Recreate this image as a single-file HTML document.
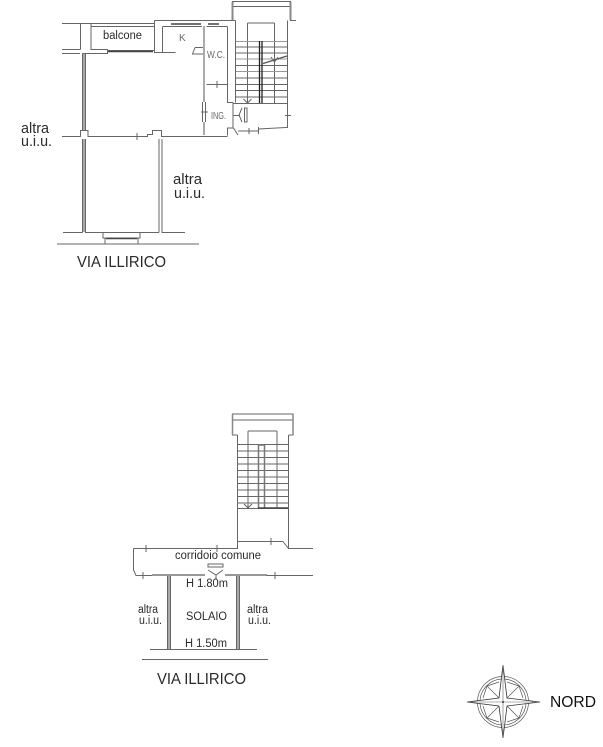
<!DOCTYPE html>
<html>
<head>
<meta charset="utf-8">
<style>
html,body{margin:0;padding:0;background:#fff;width:603px;height:747px;overflow:hidden}
svg{display:block}
text{font-family:"Liberation Sans",sans-serif;fill:#2a2a2a}
.l{fill:none;stroke:#666;stroke-width:1}
.g{fill:none;stroke:#aaa;stroke-width:2}
.d{fill:none;stroke:#444;stroke-width:1.5}
</style>
</head>
<body>
<svg width="603" height="747" viewBox="0 0 603 747" xmlns="http://www.w3.org/2000/svg">
<rect width="603" height="747" fill="#fff"/>

<!-- TOP PLAN walls -->
<path d="M84 53V130M84 139V232M204 26V102M204 122V135" fill="none" stroke="#aaa" stroke-width="2"/>
<g class="l">
<path d="M62 23.500H154.500M91 26.500H154.500M80.500 23.500V49.500M91 23.500V49.500H107.500V53.500H82.500M62 49.500H80.500M62 53.500H80"/>
<path d="M154.500 20.500V52.500H175.500M107.500 50.500H154.500M154.500 20.500H235.500M162.500 26.500H202M206.500 26.500H227.500M162.500 26.500V52.500M195 47.500H203M195 47.500L192.500 54H203"/>
<path d="M227.500 26.500V102.500H233M206.500 84.500H227.500M217 81V88M235.500 20.500V102.500M233 102.500V128H227.500V135.500M233.500 128L238 135M238 131H258.500V129L286 127.500H287.500V103.500M249 128V134M258.500 127V134M285 115.500H291M233 115.500H240"/>
<path d="M62 136.500H80.500V130.500H88V136.500H130M130 136.500H143M137 133V140M143 136.500H147.500V134.500H152.500V130.500H161.500V136.500H227.500"/>
<path d="M82.500 53.500V130M85.500 53.500V130M82.500 139V232.500M85.500 139V232.500H159M159 139V232.500M162 139V232.500H185M63 232.500H82.500M57 244H199M103 232.500V238H140V232.500M105 238V244M138 238V244"/>
<path d="M202.500 102V122M205.500 102V122M201 112H208"/>
</g>
<path class="d" d="M108 51.500H153M171 24H201M208 24H219M106 238.500H137"/>

<!-- top stair -->
<g class="l">
<path d="M232.500 20V1.500H290.500V20M232.500 6.500H290.500M290 20.500H296M287.500 20.500V103.500H233"/>
<path d="M236 41.500H287M236 47H287M236 53H287M236 59H287M236 65.500H287M236 71.500H287M236 78H287M236 84.500H287M236 90.500H287M236 97H287"/>
<path d="M247.500 23V103M274.500 23V103M247.500 23H274.500M243.500 99L247.500 103L251.500 99M271 57L274.500 62L278 57"/>
</g>
<path d="M232.500 2V20M290.500 2V20" fill="none" stroke="#888" stroke-width="2"/>
<path d="M236 41.500H287M236 59H287M236 71.500H287" fill="none" stroke="#999" stroke-width="1"/>
<path d="M259.500 41V103M262 41V103" fill="none" stroke="#222" stroke-width="1.300"/>
<path d="M263 63.500L287 56" fill="none" stroke="#555" stroke-width="1.300"/>
<rect x="244.500" y="108" width="2.500" height="14" fill="#fff" stroke="#666"/>
<path class="l" d="M242 108L239 115L242 122"/>

<!-- labels top -->
<text x="103" y="39" font-size="11.500" textLength="39" lengthAdjust="spacingAndGlyphs">balcone</text>
<text x="179" y="41" font-size="10" style="fill:#666">K</text>
<text x="207" y="58" font-size="10.500" textLength="18" lengthAdjust="spacingAndGlyphs" style="fill:#666">W.C.</text>
<text x="211" y="119" font-size="10.500" textLength="15" lengthAdjust="spacingAndGlyphs" style="fill:#666">ING.</text>
<text x="21" y="133" font-size="15" textLength="28" lengthAdjust="spacingAndGlyphs">altra</text>
<text x="21" y="146" font-size="14.500" textLength="31" lengthAdjust="spacingAndGlyphs">u.i.u.</text>
<text x="173" y="184" font-size="15" textLength="29" lengthAdjust="spacingAndGlyphs">altra</text>
<text x="174" y="198" font-size="14.500" textLength="31" lengthAdjust="spacingAndGlyphs">u.i.u.</text>
<text x="77" y="267" font-size="15.500" textLength="89" lengthAdjust="spacingAndGlyphs">VIA ILLIRICO</text>

<!-- BOTTOM PLAN -->
<g class="l">
<path d="M237.500 435H232.500V414H293V435H288.500M232.500 420H293M237.500 435V541.500M288.500 435V548M248 431V508M277 431V508M248 431H277"/>
<path d="M237.500 444.500H288M237.500 451H288M237.500 457.500H288M237.500 464H288M237.500 470.500H288M237.500 477H288M237.500 483.500H288M237.500 490H288M237.500 496.500H288M237.500 503H288M237.500 508.500H288"/>
<path d="M244 504L248 508L252 504"/>
<path d="M133.500 548.500H237.500V541.500H267M267 541.500H283M271 538V545M283 541.500L288.500 548.500H313M146 545V552M217 545V552M133.500 548.500V570L136 575.500H152M143 572V579M266 575.500H313M275 572V579"/>
<path d="M167.500 576V649M170.500 576V649M236.500 576V649M239.500 576V649M150 649.500H257M142 659.500H268"/>
</g>
<path d="M232.500 414V435M293 414V435" fill="none" stroke="#888" stroke-width="1.500"/>
<path d="M258.500 445V508M264.500 445V508M258.500 445H264.500" fill="none" stroke="#777" stroke-width="1.500"/>
<path d="M258 508H288" fill="none" stroke="#444" stroke-width="1.500"/>
<path d="M169 576V649M238 576V649" fill="none" stroke="#aaa" stroke-width="2"/>
<path d="M152 575H205M225 575H267" fill="none" stroke="#777" stroke-width="1.500"/>
<path class="l" d="M208 564H223V567H208ZM208 570L216 575L223 570M216 575V579"/>

<text x="175" y="559" font-size="11.500" textLength="86" lengthAdjust="spacingAndGlyphs">corridoio comune</text>
<text x="186" y="587" font-size="11.500" textLength="42" lengthAdjust="spacingAndGlyphs">H 1.80m</text>
<text x="186" y="620" font-size="11.500" textLength="41" lengthAdjust="spacingAndGlyphs">SOLAIO</text>
<text x="185" y="647" font-size="11.500" textLength="42" lengthAdjust="spacingAndGlyphs">H 1.50m</text>
<text x="138" y="613" font-size="11.500" textLength="20" lengthAdjust="spacingAndGlyphs">altra</text>
<text x="139" y="624" font-size="11.500" textLength="23" lengthAdjust="spacingAndGlyphs">u.i.u.</text>
<text x="247" y="613" font-size="11.500" textLength="21" lengthAdjust="spacingAndGlyphs">altra</text>
<text x="248" y="624" font-size="11.500" textLength="23" lengthAdjust="spacingAndGlyphs">u.i.u.</text>
<text x="157" y="684" font-size="15.500" textLength="89" lengthAdjust="spacingAndGlyphs">VIA ILLIRICO</text>

<!-- COMPASS -->
<g fill="none" stroke="#555" stroke-width="0.700">
<circle cx="503" cy="702" r="25.500"/>
<circle cx="503" cy="702" r="23"/>
<path d="M503 702L487 686M503 702L519 686M503 702L487 718M503 702L519 718"/>
<path d="M487 686L499 682M487 686L483 698M519 686L507 682M519 686L523 698M487 718L499 722M487 718L483 706M519 718L507 722M519 718L523 706"/>
</g>
<path d="M503 665L507 698L540 702L507 706L503 738L499 706L467 702L499 698Z" fill="#fff" stroke="#333" stroke-width="0.800"/>
<path d="M503 665V738M467 702H540" stroke="#666" stroke-width="0.600" fill="none"/>
<circle cx="503" cy="702" r="1" fill="#333"/>
<text x="550" y="707" font-size="16" textLength="46" lengthAdjust="spacingAndGlyphs" style="fill:#111">NORD</text>
</svg>
</body>
</html>
